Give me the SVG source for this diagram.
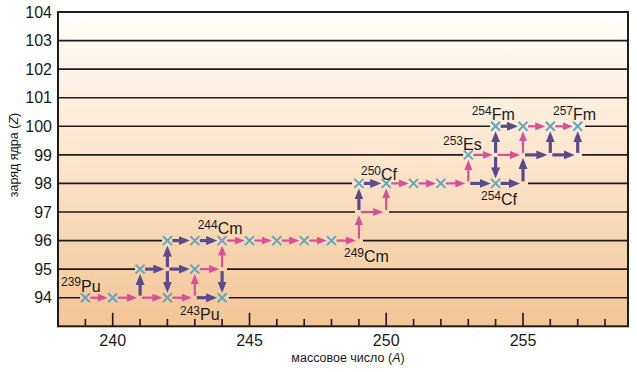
<svg xmlns="http://www.w3.org/2000/svg" xmlns:xlink="http://www.w3.org/1999/xlink" width="637" height="372" viewBox="0 0 637 372">
<defs>
<linearGradient id="bg" x1="0" y1="0" x2="0" y2="1">
<stop offset="0" stop-color="#fffefb"/>
<stop offset="0.5" stop-color="#fbe4c9"/>
<stop offset="1" stop-color="#f4c596"/>
</linearGradient>
<marker id="hp" markerWidth="10" markerHeight="8" refX="7" refY="4" orient="auto" markerUnits="userSpaceOnUse">
<path d="M0,0 L10,4 L0,8 z" fill="#d84f9b"/>
</marker>
<marker id="hu" markerWidth="11" markerHeight="9" refX="7" refY="4.5" orient="auto" markerUnits="userSpaceOnUse">
<path d="M0,0 L11,4.5 L0,9 z" fill="#5a4b8d"/>
</marker>
<path id="x" d="M-4.5,-4.5L4.5,4.5M-4.5,4.5L4.5,-4.5"/>
</defs>
<style>
.t{font-family:"Liberation Sans",Arial,sans-serif;fill:#1a1a1a}
.tick{font-size:16px}
.lab{font-size:16px}
.sup{font-size:12px}
.ax{font-size:12.5px}
.grid{stroke:#1c1c1c;stroke-width:1.6;fill:none}
.pk{stroke:#d84f9b;stroke-width:2.2;fill:none;marker-end:url(#hp)}
.pu{stroke:#5a4b8d;stroke-width:3.2;fill:none;marker-end:url(#hu)}
.xm{stroke:#5fa8c2;stroke-width:2;fill:none}
</style>
<rect width="637" height="372" fill="#ffffff"/>
<g id="axes">
<rect x="58" y="12" width="570" height="314.3" fill="url(#bg)"/>
<g class="grid">
<path d="M58,40.6H628M58,69.1H628M58,97.7H628"/>
<path d="M58,126.3H490M585,126.3H628"/>
<path d="M58,154.9H463M582,154.9H628"/>
<path d="M58,183.4H352M528,183.4H628"/>
<path d="M58,212H355M389,212H628"/>
<path d="M58,240.6H162M363,240.6H628"/>
<path d="M58,269.1H135M227,269.1H628"/>
<path d="M58,297.7H80M229,297.7H628"/>
<path d="M112.7,312.7V326M249.5,312.7V326M386.2,312.7V326M523,312.7V326"/>
<path d="M85.4,319V326M140.1,319V326M167.4,319V326M194.8,319V326M222.1,319V326M276.8,319V326M304.2,319V326M331.5,319V326M358.9,319V326M413.6,319V326M440.9,319V326M468.3,319V326M495.6,319V326M550.3,319V326M577.7,319V326M605,319V326"/>
</g>
<rect x="58" y="12" width="570" height="314.3" fill="none" stroke="#1c1c1c" stroke-width="2"/>
<g class="t tick" text-anchor="end">
<text x="52" y="17.7">104</text>
<text x="52" y="46.3">103</text>
<text x="52" y="74.8">102</text>
<text x="52" y="103.4">101</text>
<text x="52" y="132">100</text>
<text x="52" y="160.6">99</text>
<text x="52" y="189.1">98</text>
<text x="52" y="217.7">97</text>
<text x="52" y="246.3">96</text>
<text x="52" y="274.8">95</text>
<text x="52" y="303.4">94</text>
</g>
<g class="t tick" text-anchor="middle">
<text x="112.7" y="345.7">240</text>
<text x="249.5" y="345.7">245</text>
<text x="386.2" y="345.7">250</text>
<text x="523" y="345.7">255</text>
</g>
<text class="t ax" x="348" y="362" text-anchor="middle" font-size="13">массовое число (<tspan font-style="italic">A</tspan>)</text>
<text class="t ax" x="17.5" y="155" text-anchor="middle" transform="rotate(-90 17.5 155)">заряд ядра (<tspan font-style="italic">Z</tspan>)</text>
</g>
<g id="connectors">
<path class="pk" d="M90.4,297.7H104.7"/>
<path class="pk" d="M117.7,297.7H134.1"/>
<path class="pk" d="M142.1,297.7H159.4"/>
<path class="pk" d="M172.4,297.7H188.8"/>
<path class="pk" d="M194.8,295.7V277.1"/>
<path class="pk" d="M199.8,269.1H216.1"/>
<path class="pk" d="M222.1,267.1V248.6"/>
<path class="pk" d="M227.1,240.6H241.5"/>
<path class="pk" d="M254.5,240.6H268.8"/>
<path class="pk" d="M281.8,240.6H296.2"/>
<path class="pk" d="M309.2,240.6H323.5"/>
<path class="pk" d="M336.5,240.6H352.9"/>
<path class="pk" d="M358.9,238.6V218"/>
<path class="pk" d="M360.9,212H380.2"/>
<path class="pk" d="M386.2,210V191.4"/>
<path class="pk" d="M391.2,183.4H405.6"/>
<path class="pk" d="M418.6,183.4H432.9"/>
<path class="pk" d="M445.9,183.4H462.3"/>
<path class="pk" d="M468.3,181.4V162.9"/>
<path class="pk" d="M473.3,154.9H489.6"/>
<path class="pk" d="M497.6,154.9H517"/>
<path class="pk" d="M523,152.9V134.3"/>
<path class="pk" d="M528,126.3H542.3"/>
<path class="pk" d="M555.3,126.3H569.7"/>
<path class="pu" d="M140.1,295.7V278.1"/>
<path class="pu" d="M145.1,269.1H160.4"/>
<path class="pu" d="M169.4,269.1H185.8"/>
<path class="pu" d="M167.4,267.1V249.6"/>
<path class="pu" d="M167.4,271.1V288.7"/>
<path class="pu" d="M196.8,297.7H213.1"/>
<path class="pu" d="M222.1,271.1V288.7"/>
<path class="pu" d="M172.4,240.6H185.8"/>
<path class="pu" d="M199.8,240.6H213.1"/>
<path class="pu" d="M358.9,210V192.4"/>
<path class="pu" d="M363.9,183.4H377.2"/>
<path class="pu" d="M470.3,183.4H486.6"/>
<path class="pu" d="M500.6,183.4H516"/>
<path class="pu" d="M523,181.4V161.9"/>
<path class="pu" d="M495.6,152.9V135.3"/>
<path class="pu" d="M495.6,156.9V174.4"/>
<path class="pu" d="M525,154.9H543.3"/>
<path class="pu" d="M552.3,154.9H570.7"/>
<path class="pu" d="M550.3,152.9V135.3"/>
<path class="pu" d="M577.7,152.9V135.3"/>
<path class="pu" d="M500.6,126.3H514"/>
</g>
<g id="n239Pu"><use xlink:href="#x" class="xm" x="85.4" y="297.7"/><text class="t lab" x="61" y="291.5"><tspan class="sup" y="286">239</tspan><tspan y="291.5">Pu</tspan></text></g>
<g id="n240Pu"><use xlink:href="#x" class="xm" x="112.7" y="297.7"/></g>
<g id="n242Pu"><use xlink:href="#x" class="xm" x="167.4" y="297.7"/></g>
<g id="n243Pu"><use xlink:href="#x" class="xm" x="222.1" y="297.7"/><text class="t lab" x="180" y="320"><tspan class="sup" y="314.5">243</tspan><tspan y="320">Pu</tspan></text></g>
<g id="n241Am"><use xlink:href="#x" class="xm" x="140.1" y="269.1"/></g>
<g id="n243Am"><use xlink:href="#x" class="xm" x="194.8" y="269.1"/></g>
<g id="n242Cm"><use xlink:href="#x" class="xm" x="167.4" y="240.6"/></g>
<g id="n243Cm"><use xlink:href="#x" class="xm" x="194.8" y="240.6"/></g>
<g id="n244Cm"><use xlink:href="#x" class="xm" x="222.1" y="240.6"/><text class="t lab" x="197.7" y="234.4"><tspan class="sup" y="229">244</tspan><tspan y="234.4">Cm</tspan></text></g>
<g id="n245Cm"><use xlink:href="#x" class="xm" x="249.5" y="240.6"/></g>
<g id="n246Cm"><use xlink:href="#x" class="xm" x="276.8" y="240.6"/></g>
<g id="n247Cm"><use xlink:href="#x" class="xm" x="304.2" y="240.6"/></g>
<g id="n248Cm"><use xlink:href="#x" class="xm" x="331.5" y="240.6"/></g>
<g id="n249Cm"><text class="t lab" x="344" y="262"><tspan class="sup" y="256.5">249</tspan><tspan y="262">Cm</tspan></text></g>
<g id="n249Cf"><use xlink:href="#x" class="xm" x="358.9" y="183.4"/></g>
<g id="n250Cf"><use xlink:href="#x" class="xm" x="386.2" y="183.4"/><text class="t lab" x="361" y="180"><tspan class="sup" y="174.5">250</tspan><tspan y="180">Cf</tspan></text></g>
<g id="n251Cf"><use xlink:href="#x" class="xm" x="413.6" y="183.4"/></g>
<g id="n252Cf"><use xlink:href="#x" class="xm" x="440.9" y="183.4"/></g>
<g id="n254Cf"><use xlink:href="#x" class="xm" x="495.6" y="183.4"/><text class="t lab" x="481" y="205"><tspan class="sup" y="199.5">254</tspan><tspan y="205">Cf</tspan></text></g>
<g id="n253Es"><use xlink:href="#x" class="xm" x="468.3" y="154.9"/><text class="t lab" x="443" y="150"><tspan class="sup" y="144.5">253</tspan><tspan y="150">Es</tspan></text></g>
<g id="n254Fm"><use xlink:href="#x" class="xm" x="495.6" y="126.3"/><text class="t lab" x="471.7" y="120"><tspan class="sup" y="114.5">254</tspan><tspan y="120">Fm</tspan></text></g>
<g id="n255Fm"><use xlink:href="#x" class="xm" x="523" y="126.3"/></g>
<g id="n256Fm"><use xlink:href="#x" class="xm" x="550.3" y="126.3"/></g>
<g id="n257Fm"><use xlink:href="#x" class="xm" x="577.7" y="126.3"/><text class="t lab" x="553" y="120"><tspan class="sup" y="114.5">257</tspan><tspan y="120">Fm</tspan></text></g>
</svg>
